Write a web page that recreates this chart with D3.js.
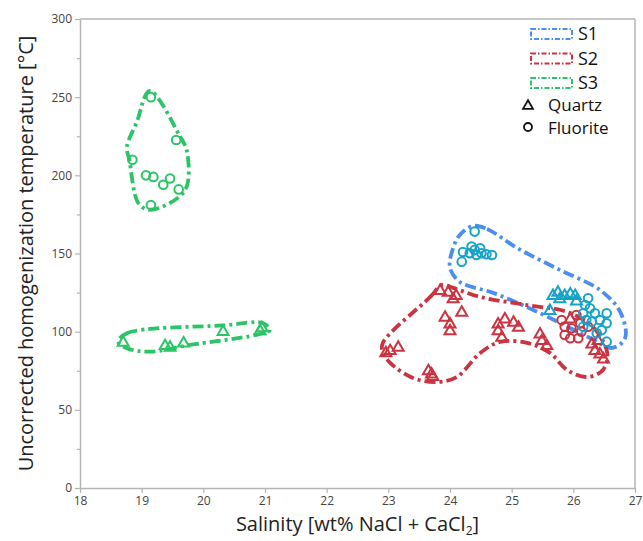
<!DOCTYPE html>
<html>
<head>
<meta charset="utf-8">
<script src="https://cdn.jsdelivr.net/npm/d3@7"></script>
<style>
  body { margin: 0; background: #fff; }
  svg { font-family: "Open Sans", "DejaVu Sans", sans-serif; }
</style>
</head>
<body>
<div id="chart"></div>
<script>
// salinity [wt%] , Th [°C]
const s1Quartz = [[25.67,123.5],[25.75,125.6],[25.86,123.5],[25.95,124.6],[26.03,123.5],[25.78,121.4],[26.05,120],[25.62,114]];
const s1Fluorite = [[24.40,164],[24.21,151],[24.19,144.8],[24.35,154.4],[24.40,152.3],[24.49,153.3],[24.51,150.2],[24.59,149.5],[24.68,149],[24.32,150.2],[24.43,149],
  [26.24,121.4],[26.19,117],[26.27,115],[26.16,111.8],[26.35,111.8],[26.54,111.8],[26.43,107.5],[26.54,105.4],[26.21,107.5],[26.30,106.4],[26.16,103.2],[26.46,101],[26.54,93.6],[26.38,99]];
const s2Quartz = [[23.03,88.3],[23.16,90.4],[22.96,87],[23.65,75.5],[23.70,73.4],[23.72,71.7],[23.84,126.7],[23.97,125.6],[24.05,121.4],[24.10,123.5],[24.19,112.8],[23.92,109.6],[24.0,105.4],[24.0,101],
  [24.78,105.4],[24.89,108.6],[25.03,106.4],[25.11,103.2],[24.78,101],[24.84,96.8],[25.46,99],[25.49,94.7],[25.57,91.5],[25.95,108.6],[26.30,92.6],[26.35,88.3],[26.43,86.2],[26.49,83],[26.40,94.7]];
const s2Fluorite = [[25.81,107.5],[25.86,103.2],[25.97,102.2],[25.86,97.9],[25.95,95.8],[26.08,95.8],[26.13,100],[26.11,105.4],[26.24,103.2],[26.05,110.7]];
const s3Quartz = [[18.70,93.6],[19.38,91.5],[19.46,90.4],[19.68,93.2],[20.32,100.6],[20.92,101],[20.95,103]];
const s3Fluorite = [[19.15,250],[19.56,222.6],[18.85,210],[19.07,200],[19.19,199],[19.35,194],[19.46,198],[19.60,191],[19.15,181]];

// outlines round each group
const s1Hull = [[24.37,167.6],[24.6,165.7],[25.09,153.5],[25.78,139.5],[26.43,126.7],[26.76,112.6],[26.84,96],[26.63,89.6],[26.27,96],[25.35,113.9],[24.70,124.8],[24.16,131.8],[24.0,140.8],[24.05,153.5],[24.16,161.9]];
const s2Hull = [[22.91,92.8],[23.68,122.2],[23.87,129.9],[24.05,128],[24.49,122.2],[25.25,117],[25.9,112.6],[26.32,103],[26.55,86.4],[26.48,75.5],[26.22,71],[25.9,75.5],[25.62,86.4],[25.25,92.8],[24.81,93.4],[24.49,86.4],[24.11,71],[23.79,67.8],[23.4,70.4],[23.03,80],[22.91,87]];
const s3HullQ = [[18.62,93.6],[18.76,99],[20.32,104],[20.97,105.4],[21.08,101],[20.86,98],[19.78,91.5],[19.13,87.2],[18.76,89.4]];
const s3HullF = [[19.13,254],[19.62,225],[19.73,216],[19.74,194],[19.6,186],[19.14,178],[18.95,182],[18.8,210],[18.76,218],[18.92,234]];

const xTicks = [18, 19, 20, 21, 22, 23, 24, 25, 26, 27];
const yTicks = [0, 50, 100, 150, 200, 250, 300];
const yMinor = [25, 75, 125, 175, 225, 275];
const legendSeries = ["S1", "S2", "S3"];

const colors = { S1: "#4a8ff0", S2: "#cc3340", S3: "#2bc466" };
const markerCol = { S1: "#17a3c8", S2: "#cc3340", S3: "#2bc466" };

const W = 643, H = 541;
const margin = { top: 19, right: 8, bottom: 53, left: 80 };
const width = W - margin.left - margin.right;
const height = H - margin.top - margin.bottom;

const svg = d3.select("#chart").append("svg")
    .attr("width", W)
    .attr("height", H);

const g = svg.append("g")
    .attr("transform", `translate(${margin.left},${margin.top})`);

const x = d3.scaleLinear().domain([18, 27]).range([0, width]);
const y = d3.scaleLinear().domain([0, 300]).range([height, 0]);

const axisCol = "#b4b4b4";

// frame top & right
g.append("line").attr("x1", 0).attr("x2", width).attr("y1", 0).attr("y2", 0)
    .attr("stroke", axisCol).attr("stroke-width", 1.5);
g.append("line").attr("x1", width).attr("x2", width).attr("y1", 0).attr("y2", height)
    .attr("stroke", axisCol).attr("stroke-width", 1.5);

// axes
g.append("g")
    .attr("transform", `translate(0,${height})`)
    .call(d3.axisBottom(x).tickValues(xTicks).tickSize(5).tickSizeOuter(0).tickPadding(3));
g.append("g")
    .call(d3.axisLeft(y).tickValues(yTicks).tickSize(5).tickSizeOuter(0).tickPadding(3));
g.append("g")
    .call(d3.axisLeft(y).tickValues(yMinor).tickSize(3).tickFormat("").tickSizeOuter(0))
    .select(".domain").remove();

g.selectAll(".domain").attr("stroke", axisCol).attr("stroke-width", 1.5);
g.selectAll(".tick line").attr("stroke", axisCol).attr("stroke-width", 1.2);
g.selectAll(".tick text").style("font-size", "12px").style("fill", "#444")
    .style("font-family", "'Open Sans', sans-serif");

// axis titles
svg.append("text")
    .attr("transform", `translate(33,${margin.top + height / 2}) rotate(-90)`)
    .attr("text-anchor", "middle")
    .style("font-size", "20px")
    .style("fill", "#222")
    .text("Uncorrected homogenization temperature [°C]");

const xl = svg.append("text")
    .attr("x", margin.left + width / 2)
    .attr("y", 531)
    .attr("text-anchor", "middle")
    .style("font-size", "20px")
    .style("fill", "#222");
xl.append("tspan").text("Salinity [wt% NaCl + CaCl");
xl.append("tspan").text("2").style("font-size", "12px").attr("dy", 4);
xl.append("tspan").text("]").attr("dy", -4);

// hulls
const dash = "11,4,3,4";
const hull = d3.line()
    .x(d => x(d[0])).y(d => y(d[1]))
    .curve(d3.curveCatmullRomClosed.alpha(0.5));

[[s1Hull, "S1"], [s2Hull, "S2"], [s3HullQ, "S3"], [s3HullF, "S3"]].forEach(([pts, s]) => {
    g.append("path")
        .attr("d", hull(pts))
        .attr("fill", "none")
        .attr("stroke", colors[s])
        .attr("stroke-width", 3.8)
        .attr("stroke-dasharray", dash);
});

// markers
const tri = d3.symbol().type(d3.symbolTriangle).size(52);
function drawTri(data, s) {
    g.append("g").selectAll("path")
        .data(data).enter().append("path")
        .attr("d", tri)
        .attr("transform", d => `translate(${x(d[0])},${y(d[1]) + 1})`)
        .attr("fill", "none")
        .attr("stroke", markerCol[s])
        .attr("stroke-width", 2);
}
function drawCirc(data, s) {
    g.append("g").selectAll("circle")
        .data(data).enter().append("circle")
        .attr("cx", d => x(d[0]))
        .attr("cy", d => y(d[1]))
        .attr("r", 4.3)
        .attr("fill", "none")
        .attr("stroke", markerCol[s])
        .attr("stroke-width", 2);
}
drawTri(s3Quartz, "S3");
drawCirc(s3Fluorite, "S3");
drawTri(s2Quartz, "S2");
drawCirc(s2Fluorite, "S2");
drawCirc(s1Fluorite, "S1");
drawTri(s1Quartz, "S1");

// legend
const leg = svg.append("g").attr("transform", "translate(530,0)");
legendSeries.forEach((s, i) => {
    const cy = 34 + i * 24.5;
    leg.append("rect")
        .attr("x", 1).attr("y", cy - 5)
        .attr("width", 41).attr("height", 10)
        .attr("fill", "none")
        .attr("stroke", colors[s])
        .attr("stroke-width", 2)
        .attr("stroke-dasharray", "5,2,1.5,2");
    leg.append("text")
        .attr("x", 48).attr("y", cy + 6)
        .style("font-size", "18px")
        .style("fill", "#111")
        .text(s);
});
leg.append("path")
    .attr("d", d3.symbol().type(d3.symbolTriangle).size(42))
    .attr("transform", "translate(-2,106)")
    .attr("fill", "none").attr("stroke", "#111").attr("stroke-width", 1.8);
leg.append("text").attr("x", 18).attr("y", 111).style("font-size", "17px").style("fill", "#111").text("Quartz");
leg.append("circle").attr("cx", -2).attr("cy", 127).attr("r", 4)
    .attr("fill", "none").attr("stroke", "#111").attr("stroke-width", 1.8);
leg.append("text").attr("x", 18).attr("y", 134).style("font-size", "17px").style("fill", "#111").text("Fluorite");
</script>
</body>
</html>
